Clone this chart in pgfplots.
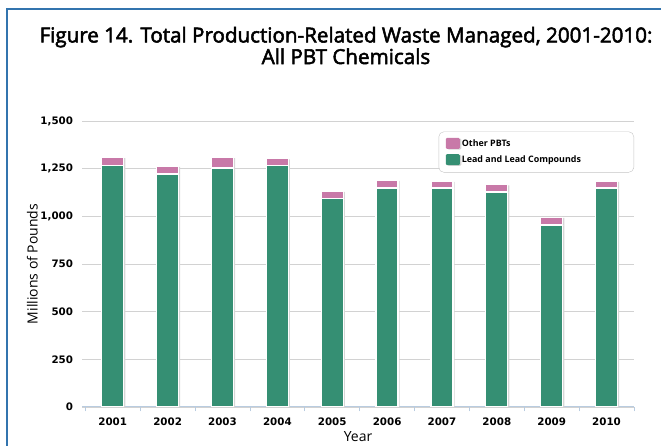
\documentclass[border=0pt]{standalone}
\usepackage{pgfplots}
\pgfplotsset{compat=1.18}
\usepackage{fontspec}
\setmainfont{Open Sans}
\newfontfamily\tickfont{DejaVu Sans}
\newfontfamily\titlefont[FakeBold=2.5]{Open Sans}
\definecolor{leadgreen}{HTML}{358F73}
\definecolor{otherpink}{HTML}{C879A8}
\definecolor{frameblue}{HTML}{3274AE}
\definecolor{axblue}{HTML}{B9CCE0}
\definecolor{gridgray}{HTML}{D2D2D2}
\begin{document}
\begin{tikzpicture}[x=1pt,y=1pt]
\path[use as bounding box] (0,0) rectangle (661,446);
\draw[frameblue, line width=2.4pt] (7,0) -- (7,437) -- (661,437);
\node[font=\titlefont\fontsize{20.6}{19.5}\selectfont, align=center, inner sep=0pt] at (346,400.5)
  {Figure 14. Total Production-Related Waste Managed, 2001-2010:\\All PBT Chemicals};
\begin{axis}[
  at={(82pt,39pt)}, anchor=south west,
  scale only axis, width=552pt, height=286pt,
  ybar stacked, bar width=22pt,
  xmin=-0.56, xmax=9.5, ymin=0, ymax=1500,
  ytick={0,250,...,1500},
  xtick={0,...,9},
  xticklabels={2001,2002,2003,2004,2005,2006,2007,2008,2009,2010},
  minor xtick={-0.5,0.5,...,9.5},
  major x tick style={draw=none},
  minor x tick style={axblue, line width=0.8pt},
  minor tick length=4.5pt,
  tick align=outside,
  axis x line*=bottom, axis y line*=left,
  x axis line style={axblue, line width=1pt, -},
  y axis line style={draw=none},
  ytick style={draw=none},
  ymajorgrids, grid style={gridgray, line width=0.9pt},
  /pgf/number format/assume math mode=true,
  /pgf/number format/1000 sep={,},
  ticklabel style={font=\tickfont\bfseries\fontsize{10.3}{12}\selectfont, inner sep=0pt},
  yticklabel style={xshift=-4.5pt},
  xticklabel style={yshift=-6.5pt},
  ylabel={Millions of Pounds},
  ylabel style={at={(axis description cs:-0.09,0.5)}, anchor=center, font=\fontsize{14}{16}\selectfont},
  xlabel={Year},
  xlabel style={at={(axis description cs:0.5,-0.104)}, anchor=center, font=\fontsize{14}{16}\selectfont},
  reverse legend,
  legend style={at={(1,0.963)}, anchor=north east, draw=gray!45, rounded corners=5pt,
    font=\bfseries\fontsize{8.9}{10}\selectfont, inner xsep=7pt, inner ysep=6pt,
    row sep=4pt, /tikz/every even column/.append style={column sep=4pt}},
  legend cell align=left,
  legend image code/.code={\fill[#1, draw=none, rounded corners=1.2pt] (0pt,-5pt) rectangle (14pt,6pt);},
  every axis plot/.append style={draw=white, line width=1.3pt,
    preaction={fill=black!16, draw=none, transform canvas={xshift=1.6pt, yshift=-0.6pt}}},
]
\addplot[fill=leadgreen] coordinates {(0,1268) (1,1222) (2,1253) (3,1268) (4,1092) (5,1149) (6,1149) (7,1128) (8,955) (9,1149)};
\addplot[fill=otherpink] coordinates {(0,41) (1,40) (2,56) (3,34) (4,39) (5,40) (6,35) (7,38) (8,40) (9,35)};
\legend{\makebox[163pt][l]{Lead and Lead Compounds}, \makebox[163pt][l]{Other PBTs}}
\end{axis}
\end{tikzpicture}
\end{document}
